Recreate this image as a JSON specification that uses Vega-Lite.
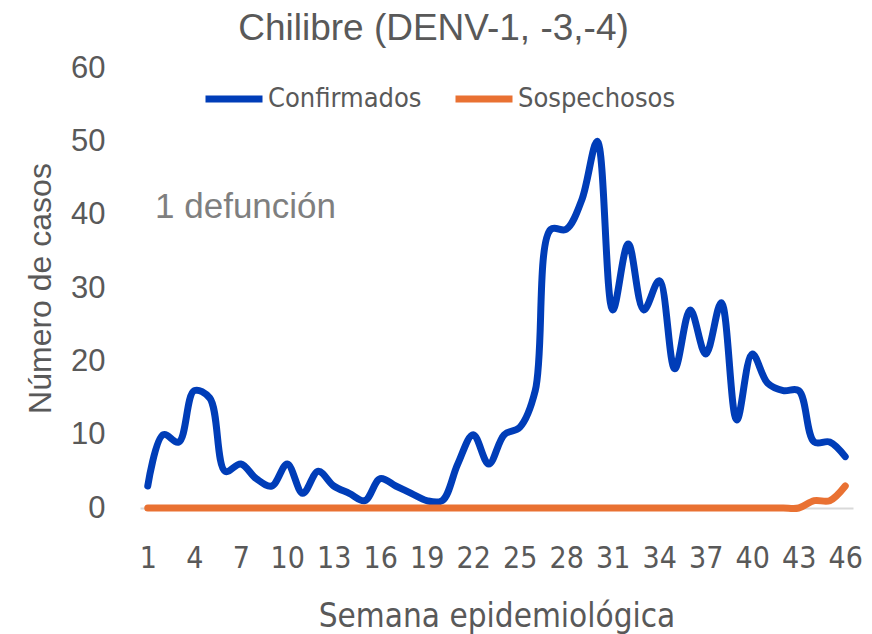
{
  "$schema": "https://vega.github.io/schema/vega-lite/v6.json",
  "width": 713,
  "height": 440,
  "autosize": {"type": "none"},
  "padding": {"left": 140, "top": 68, "right": 19, "bottom": 126},
  "background": "white",
  "config": {"view": {"stroke": null}},
  "title": {
    "text": "Chilibre (DENV-1, -3,-4)",
    "font": "Liberation Sans",
    "fontSize": 37,
    "fontWeight": "normal",
    "color": "#595959",
    "anchor": "middle",
    "frame": "group",
    "dx": -63,
    "offset": 4
  },
  "data": {
    "values": [
      {"semana": 1, "serie": "Confirmados", "casos": 3},
      {"semana": 2, "serie": "Confirmados", "casos": 10},
      {"semana": 3, "serie": "Confirmados", "casos": 9},
      {"semana": 4, "serie": "Confirmados", "casos": 16},
      {"semana": 5, "serie": "Confirmados", "casos": 15},
      {"semana": 6, "serie": "Confirmados", "casos": 5},
      {"semana": 7, "serie": "Confirmados", "casos": 6},
      {"semana": 8, "serie": "Confirmados", "casos": 4},
      {"semana": 9, "serie": "Confirmados", "casos": 3},
      {"semana": 10, "serie": "Confirmados", "casos": 6},
      {"semana": 11, "serie": "Confirmados", "casos": 2},
      {"semana": 12, "serie": "Confirmados", "casos": 5},
      {"semana": 13, "serie": "Confirmados", "casos": 3},
      {"semana": 14, "serie": "Confirmados", "casos": 2},
      {"semana": 15, "serie": "Confirmados", "casos": 1},
      {"semana": 16, "serie": "Confirmados", "casos": 4},
      {"semana": 17, "serie": "Confirmados", "casos": 3},
      {"semana": 18, "serie": "Confirmados", "casos": 2},
      {"semana": 19, "serie": "Confirmados", "casos": 1},
      {"semana": 20, "serie": "Confirmados", "casos": 1},
      {"semana": 21, "serie": "Confirmados", "casos": 6},
      {"semana": 22, "serie": "Confirmados", "casos": 10},
      {"semana": 23, "serie": "Confirmados", "casos": 6},
      {"semana": 24, "serie": "Confirmados", "casos": 10},
      {"semana": 25, "serie": "Confirmados", "casos": 11},
      {"semana": 26, "serie": "Confirmados", "casos": 16},
      {"semana": 27, "serie": "Confirmados", "casos": 38},
      {"semana": 28, "serie": "Confirmados", "casos": 38},
      {"semana": 29, "serie": "Confirmados", "casos": 42},
      {"semana": 30, "serie": "Confirmados", "casos": 50},
      {"semana": 31, "serie": "Confirmados", "casos": 27},
      {"semana": 32, "serie": "Confirmados", "casos": 36},
      {"semana": 33, "serie": "Confirmados", "casos": 27},
      {"semana": 34, "serie": "Confirmados", "casos": 31},
      {"semana": 35, "serie": "Confirmados", "casos": 19},
      {"semana": 36, "serie": "Confirmados", "casos": 27},
      {"semana": 37, "serie": "Confirmados", "casos": 21},
      {"semana": 38, "serie": "Confirmados", "casos": 28},
      {"semana": 39, "serie": "Confirmados", "casos": 12},
      {"semana": 40, "serie": "Confirmados", "casos": 21},
      {"semana": 41, "serie": "Confirmados", "casos": 17},
      {"semana": 42, "serie": "Confirmados", "casos": 16},
      {"semana": 43, "serie": "Confirmados", "casos": 16},
      {"semana": 44, "serie": "Confirmados", "casos": 9},
      {"semana": 45, "serie": "Confirmados", "casos": 9},
      {"semana": 46, "serie": "Confirmados", "casos": 7},
      {"semana": 1, "serie": "Sospechosos", "casos": 0},
      {"semana": 2, "serie": "Sospechosos", "casos": 0},
      {"semana": 3, "serie": "Sospechosos", "casos": 0},
      {"semana": 4, "serie": "Sospechosos", "casos": 0},
      {"semana": 5, "serie": "Sospechosos", "casos": 0},
      {"semana": 6, "serie": "Sospechosos", "casos": 0},
      {"semana": 7, "serie": "Sospechosos", "casos": 0},
      {"semana": 8, "serie": "Sospechosos", "casos": 0},
      {"semana": 9, "serie": "Sospechosos", "casos": 0},
      {"semana": 10, "serie": "Sospechosos", "casos": 0},
      {"semana": 11, "serie": "Sospechosos", "casos": 0},
      {"semana": 12, "serie": "Sospechosos", "casos": 0},
      {"semana": 13, "serie": "Sospechosos", "casos": 0},
      {"semana": 14, "serie": "Sospechosos", "casos": 0},
      {"semana": 15, "serie": "Sospechosos", "casos": 0},
      {"semana": 16, "serie": "Sospechosos", "casos": 0},
      {"semana": 17, "serie": "Sospechosos", "casos": 0},
      {"semana": 18, "serie": "Sospechosos", "casos": 0},
      {"semana": 19, "serie": "Sospechosos", "casos": 0},
      {"semana": 20, "serie": "Sospechosos", "casos": 0},
      {"semana": 21, "serie": "Sospechosos", "casos": 0},
      {"semana": 22, "serie": "Sospechosos", "casos": 0},
      {"semana": 23, "serie": "Sospechosos", "casos": 0},
      {"semana": 24, "serie": "Sospechosos", "casos": 0},
      {"semana": 25, "serie": "Sospechosos", "casos": 0},
      {"semana": 26, "serie": "Sospechosos", "casos": 0},
      {"semana": 27, "serie": "Sospechosos", "casos": 0},
      {"semana": 28, "serie": "Sospechosos", "casos": 0},
      {"semana": 29, "serie": "Sospechosos", "casos": 0},
      {"semana": 30, "serie": "Sospechosos", "casos": 0},
      {"semana": 31, "serie": "Sospechosos", "casos": 0},
      {"semana": 32, "serie": "Sospechosos", "casos": 0},
      {"semana": 33, "serie": "Sospechosos", "casos": 0},
      {"semana": 34, "serie": "Sospechosos", "casos": 0},
      {"semana": 35, "serie": "Sospechosos", "casos": 0},
      {"semana": 36, "serie": "Sospechosos", "casos": 0},
      {"semana": 37, "serie": "Sospechosos", "casos": 0},
      {"semana": 38, "serie": "Sospechosos", "casos": 0},
      {"semana": 39, "serie": "Sospechosos", "casos": 0},
      {"semana": 40, "serie": "Sospechosos", "casos": 0},
      {"semana": 41, "serie": "Sospechosos", "casos": 0},
      {"semana": 42, "serie": "Sospechosos", "casos": 0},
      {"semana": 43, "serie": "Sospechosos", "casos": 0},
      {"semana": 44, "serie": "Sospechosos", "casos": 1},
      {"semana": 45, "serie": "Sospechosos", "casos": 1},
      {"semana": 46, "serie": "Sospechosos", "casos": 3}
    ]
  },
  "layer": [
    {
      "mark": {"type": "line", "interpolate": "catmull-rom", "strokeWidth": 7, "strokeCap": "round", "strokeJoin": "round"},
      "encoding": {
        "x": {
          "field": "semana",
          "type": "quantitative",
          "scale": {"domain": [0.5, 46.5], "nice": false, "zero": false},
          "axis": {
            "values": [1, 4, 7, 10, 13, 16, 19, 22, 25, 28, 31, 34, 37, 40, 43, 46],
            "title": "Semana epidemiológica",
            "grid": false,
            "ticks": false,
            "tickSize": 0,
            "domainColor": "#D9D9D9",
            "domainWidth": 2,
            "labelFont": "DejaVu Sans Condensed",
            "labelFontSize": 30,
            "labelColor": "#595959",
            "labelPadding": 35,
            "labelFlush": false,
            "labelOverlap": false,
            "titleFont": "DejaVu Sans Condensed",
            "titleFontSize": 33,
            "titleFontWeight": "normal",
            "titleColor": "#595959",
            "titleBaseline": "alphabetic",
            "titleY": 118
          }
        },
        "y": {
          "field": "casos",
          "type": "quantitative",
          "scale": {"domain": [0, 60], "nice": false},
          "axis": {
            "values": [0, 10, 20, 30, 40, 50, 60],
            "title": "Número de casos",
            "grid": false,
            "ticks": false,
            "tickSize": 0,
            "domain": false,
            "labelFont": "Liberation Sans",
            "labelFontSize": 31,
            "labelColor": "#595959",
            "labelPadding": 35,
            "titleFont": "Liberation Sans",
            "titleFontSize": 32,
            "titleFontWeight": "normal",
            "titleColor": "#595959",
            "titleAlign": "center",
            "titleBaseline": "middle",
            "titleAngle": -90,
            "titleX": -100,
            "titleY": 220
          }
        },
        "color": {
          "field": "serie",
          "type": "nominal",
          "scale": {"domain": ["Confirmados", "Sospechosos"], "range": ["#003DB8", "#E97132"]},
          "legend": {
            "title": null,
            "orient": "none",
            "direction": "horizontal",
            "legendX": 62,
            "legendY": -1,
            "symbolType": "stroke",
            "symbolSize": 3249,
            "symbolStrokeWidth": 7,
            "labelFont": "DejaVu Sans Condensed",
            "labelFontSize": 27,
            "labelColor": "#595959",
            "labelOffset": 2,
            "columnPadding": 19,
            "labelLimit": 400
          }
        }
      }
    },
    {
      "data": {"values": [{}]},
      "mark": {"type": "text", "text": "1 defunción", "align": "left", "baseline": "middle", "font": "Liberation Sans", "fontSize": 35, "color": "#7F7F7F"},
      "encoding": {
        "x": {"datum": 1.47, "type": "quantitative"},
        "y": {"datum": 41, "type": "quantitative"}
      }
    }
  ]
}
